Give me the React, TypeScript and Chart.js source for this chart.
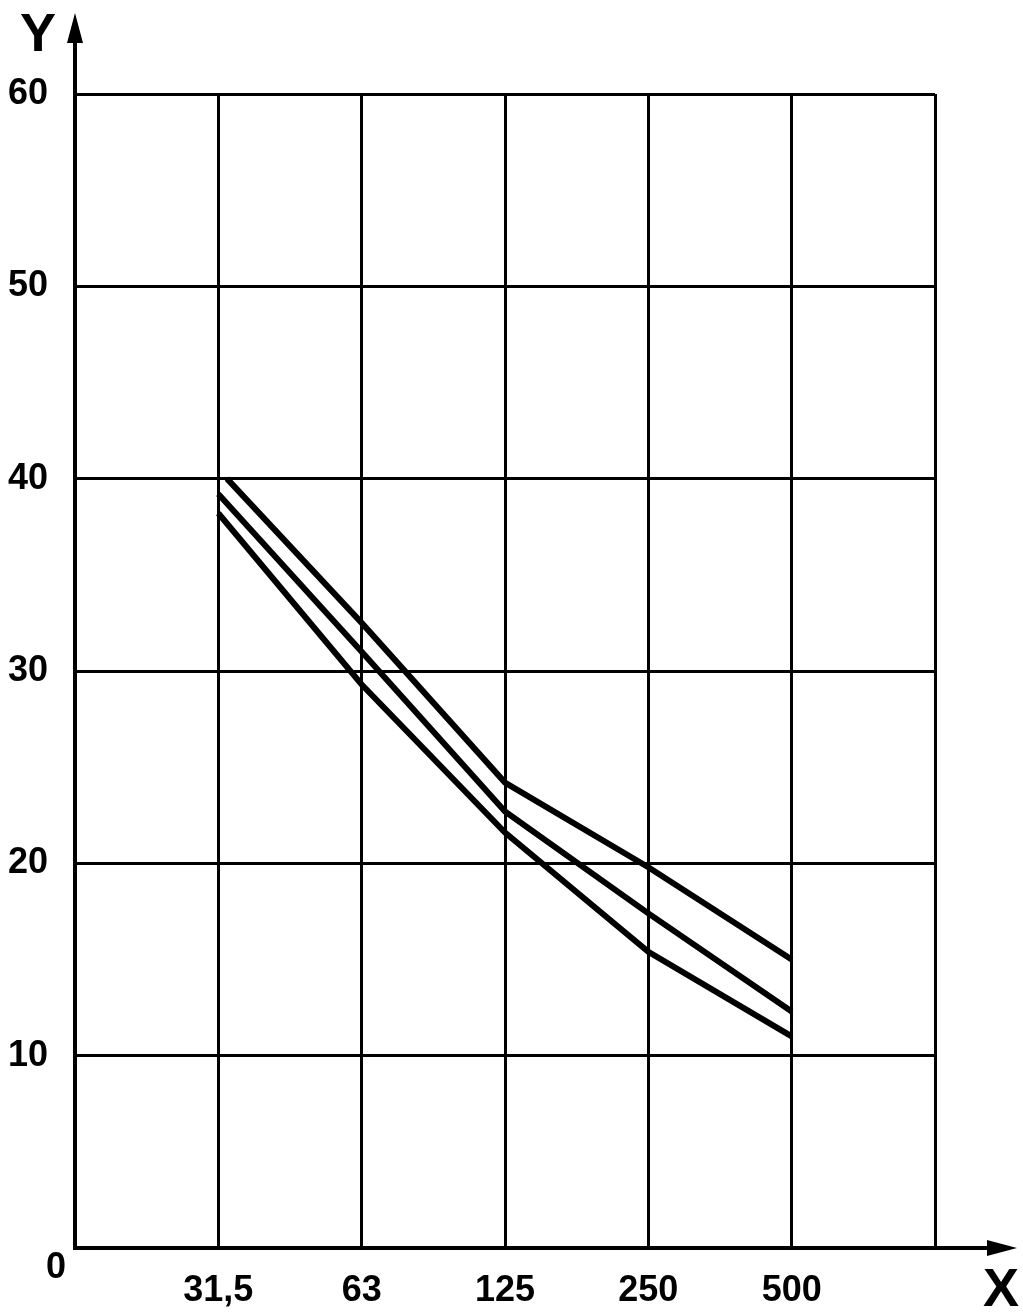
import React, { useEffect, useRef } from "react";
import { Chart, registerables } from "chart.js";

Chart.register(...registerables);

// X positions are category slots (0 = origin, 1..5 = labelled frequencies, 6 = right edge)
const X_TICK_LABELS: Record<number, string> = { 1: "31,5", 2: "63", 3: "125", 4: "250", 5: "500" };
const Y_TICKS = [0, 10, 20, 30, 40, 50, 60];

const upperX = [1.06, 2, 3, 4, 5];
const upperY = [40.0, 32.5, 24.2, 19.8, 15.0];

const middleX = [1, 2, 3, 4, 5];
const middleY = [39.2, 31.0, 22.7, 17.4, 12.3];

const lowerX = [1, 2, 3, 4, 5];
const lowerY = [38.2, 29.3, 21.6, 15.4, 11.0];

const FONT = "'Liberation Sans', Arial, sans-serif";
const TICK_SIZE = 36;

const toPoints = (xs: number[], ys: number[]) => xs.map((x, i) => ({ x, y: ys[i] }));

const axesPlugin = {
  id: "axesArrows",
  afterDraw(chart: any) {
    const { ctx, chartArea, scales } = chart;
    const x0 = scales.x.getPixelForValue(0);
    const y0 = scales.y.getPixelForValue(0);
    ctx.save();
    ctx.strokeStyle = "#000";
    ctx.fillStyle = "#000";
    ctx.lineWidth = 4;
    ctx.lineCap = "butt";
    // vertical axis
    const yTip = chartArea.top - 81;
    ctx.beginPath();
    ctx.moveTo(x0, y0 + 2);
    ctx.lineTo(x0, yTip + 20);
    ctx.stroke();
    ctx.beginPath();
    ctx.moveTo(x0, yTip);
    ctx.lineTo(x0 - 8, yTip + 30);
    ctx.lineTo(x0 + 8, yTip + 30);
    ctx.closePath();
    ctx.fill();
    // horizontal axis
    const xTip = chartArea.right + 82;
    ctx.beginPath();
    ctx.moveTo(x0 - 2, y0);
    ctx.lineTo(xTip - 20, y0);
    ctx.stroke();
    ctx.beginPath();
    ctx.moveTo(xTip, y0);
    ctx.lineTo(xTip - 30, y0 - 8);
    ctx.lineTo(xTip - 30, y0 + 8);
    ctx.closePath();
    ctx.fill();
    // texts
    ctx.textAlign = "center";
    ctx.textBaseline = "middle";
    ctx.font = `bold ${TICK_SIZE}px ${FONT}`;
    ctx.fillText("0", x0 - 19, y0 + 20);
    ctx.font = `bold 54px ${FONT}`;
    ctx.fillText("Y", x0 - 37, yTip + 23);
    ctx.fillText("X", xTip - 16, y0 + 43);
    ctx.restore();
  },
};

export default function App() {
  const ref = useRef<HTMLCanvasElement | null>(null);

  useEffect(() => {
    if (!ref.current) return;
    const lineStyle = {
      borderColor: "#000",
      borderWidth: 6,
      pointRadius: 0,
      tension: 0,
      fill: false,
      borderCapStyle: "butt" as const,
      borderJoinStyle: "miter" as const,
    };
    const chart = new Chart(ref.current, {
      type: "line",
      data: {
        datasets: [
          { label: "upper", data: toPoints(upperX, upperY), ...lineStyle },
          { label: "middle", data: toPoints(middleX, middleY), ...lineStyle },
          { label: "lower", data: toPoints(lowerX, lowerY), ...lineStyle },
        ],
      },
      options: {
        responsive: false,
        animation: false,
        devicePixelRatio: 1,
        layout: { padding: { top: 94, right: 88, left: 0, bottom: 0 } },
        plugins: { legend: { display: false }, tooltip: { enabled: false } },
        scales: {
          x: {
            type: "linear",
            min: 0,
            max: 6,
            afterFit: (s: any) => {
              s.height = 65;
            },
            afterBuildTicks: (s: any) => {
              s.ticks = [0, 1, 2, 3, 4, 5, 6].map((v) => ({ value: v }));
            },
            ticks: {
              autoSkip: false,
              maxRotation: 0,
              padding: 21,
              color: "#000",
              font: { family: FONT, size: TICK_SIZE, weight: "bold" },
              callback: (v: any) => X_TICK_LABELS[v as number] ?? "",
            },
            grid: {
              color: "#000",
              lineWidth: (c: any) => (c.tick && c.tick.value === 0 ? 0 : 3),
              drawTicks: false,
            },
            border: { display: false },
          },
          y: {
            type: "linear",
            min: 0,
            max: 60,
            afterFit: (s: any) => {
              s.width = 75;
            },
            afterBuildTicks: (s: any) => {
              s.ticks = Y_TICKS.map((v) => ({ value: v }));
            },
            ticks: {
              padding: 27,
              color: "#000",
              font: { family: FONT, size: TICK_SIZE, weight: "bold" },
              callback: (v: any) => (v === 0 ? "" : String(v)),
            },
            grid: {
              color: "#000",
              lineWidth: (c: any) => (c.tick && c.tick.value === 0 ? 0 : 3),
              drawTicks: false,
            },
            border: { display: false },
          },
        },
      },
      plugins: [axesPlugin],
    });
    return () => chart.destroy();
  }, []);

  return (
    <div style={{ position: "absolute", left: 0, top: 0, width: 1023, height: 1313, background: "#fff" }}>
      <canvas ref={ref} width={1023} height={1313} />
    </div>
  );
}
